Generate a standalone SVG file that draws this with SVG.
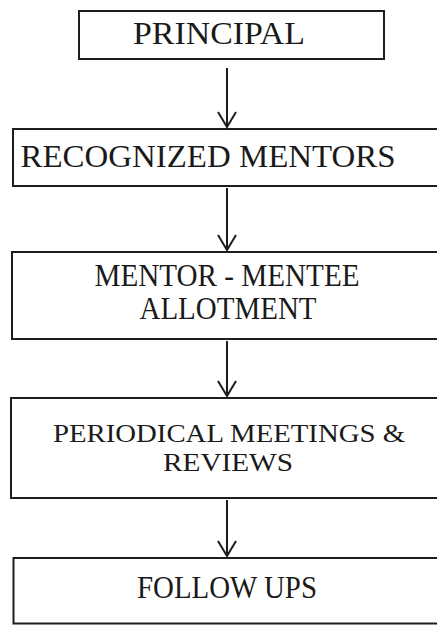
<svg xmlns="http://www.w3.org/2000/svg" width="437" height="626" viewBox="0 0 437 626">
<style>
.box{fill:none;stroke:#1e1e1e;stroke-width:2}
.t{font-family:"Liberation Serif","Times New Roman",serif;font-size:31px;fill:#1a1a1a;text-anchor:middle}
.s{font-size:26px}
.c{fill:none;stroke:#1e1e1e;stroke-width:2}
</style>
<rect width="437" height="626" fill="#ffffff"/>
<g id="principal">
<rect class="box" x="79" y="11" width="305" height="48"/>
<text class="t" x="219" y="44" textLength="172" lengthAdjust="spacingAndGlyphs">PRINCIPAL</text>
</g>
<g id="recognized-mentors">
<rect class="box" x="13" y="129" width="440" height="57"/>
<text class="t" x="208" y="167" textLength="375" lengthAdjust="spacingAndGlyphs">RECOGNIZED MENTORS</text>
</g>
<g id="allotment">
<rect class="box" x="12" y="252" width="440" height="87"/>
<text class="t" x="227" y="286" textLength="265" lengthAdjust="spacingAndGlyphs">MENTOR - MENTEE</text>
<text class="t" x="228" y="319" textLength="177" lengthAdjust="spacingAndGlyphs">ALLOTMENT</text>
</g>
<g id="meetings">
<rect class="box" x="11" y="398" width="440" height="100"/>
<text class="t s" x="229" y="442" textLength="352" lengthAdjust="spacingAndGlyphs">PERIODICAL MEETINGS &amp;</text>
<text class="t s" x="228" y="471" textLength="130" lengthAdjust="spacingAndGlyphs">REVIEWS</text>
</g>
<g id="follow-ups">
<rect class="box" x="13.5" y="558" width="440" height="65.5"/>
<text class="t" x="227" y="598" textLength="180" lengthAdjust="spacingAndGlyphs">FOLLOW UPS</text>
</g>
<g id="connectors">
<path class="c" d="M227 68V127M218 112L227 127L236 112"/>
<path class="c" d="M227 188V250M218 235L227 250L236 235"/>
<path class="c" d="M227 341V396M218 381L227 396L236 381"/>
<path class="c" d="M227 500V556M218 541L227 556L236 541"/>
</g>
</svg>
